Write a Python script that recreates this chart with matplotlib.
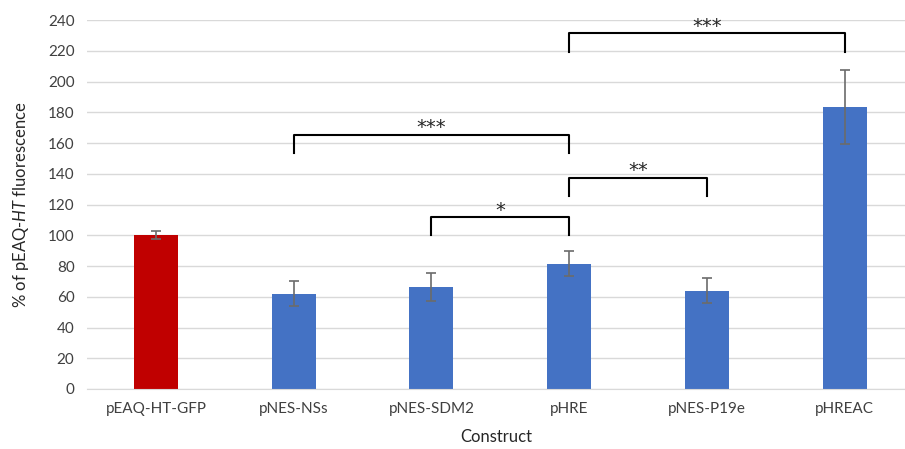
import matplotlib
matplotlib.use("Agg")
import matplotlib.pyplot as plt

plt.rcParams["font.family"] = ["Lato", "DejaVu Sans"]
plt.rcParams["mathtext.fontset"] = "custom"
plt.rcParams["mathtext.rm"] = "Lato"
plt.rcParams["mathtext.it"] = "Lato:italic"

constructs = ["pEAQ-HT-GFP", "pNES-NSs", "pNES-SDM2", "pHRE", "pNES-P19e", "pHREAC"]
values = [100, 62, 66.5, 81.5, 64, 183.5]
errors = [2.5, 8, 9, 8.3, 8, 24.3]
bar_colors = ["#C00000", "#4472C4", "#4472C4", "#4472C4", "#4472C4", "#4472C4"]

# significance brackets: (left index, right index, bracket top, leg bottom, stars)
brackets = [
    (1, 3, 165.5, 153.5, "***"),
    (2, 3, 112, 100, "*"),
    (3, 4, 137.5, 125.5, "**"),
    (3, 5, 231.5, 219.5, "***"),
]

fig = plt.figure(figsize=(9.05, 4.49), dpi=100)
ax = fig.add_axes([87 / 905, 60 / 449, 818 / 905, 369 / 449])

x = list(range(len(constructs)))
ax.bar(x, values, width=0.32, color=bar_colors, zorder=2)
ax.errorbar(x, values, yerr=errors, fmt="none", ecolor="#6B6B6B",
            elinewidth=1.2, capsize=3.3, capthick=1.2, zorder=3)

for left, right, top, bottom, stars in brackets:
    ax.plot([left, left, right, right], [bottom, top, top, bottom],
            color="black", lw=1.5, solid_joinstyle="round", zorder=4, clip_on=False)
    ax.text((left + right) / 2, top + 0.8, stars, ha="center", va="baseline",
            fontsize=14, color="#262626", family="DejaVu Sans", zorder=5)

ax.set_xlim(-0.5, 5.437)
ax.set_ylim(0, 240)
ax.set_yticks(range(0, 241, 20))
ax.set_xticks(x)
ax.set_xticklabels(constructs)
ax.tick_params(axis="both", length=0, labelsize=11, colors="#404040", pad=9)
ax.tick_params(axis="x", pad=9)
ax.grid(axis="y", color="#D9D9D9", lw=1, zorder=0)
ax.set_axisbelow(True)
for side in ["top", "right", "left"]:
    ax.spines[side].set_visible(False)
ax.spines["bottom"].set_color("#D9D9D9")

ax.set_ylabel(r"% of pEAQ-$\it{HT}$ fluorescence", fontsize=12, color="#262626", labelpad=12)
ax.set_xlabel("Construct", fontsize=12, color="#262626", labelpad=10)

fig.savefig("out.png", dpi=100)
